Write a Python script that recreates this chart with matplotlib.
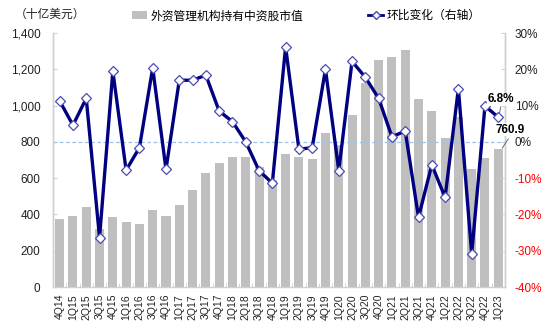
import matplotlib
matplotlib.use("Agg")
import matplotlib.pyplot as plt
from matplotlib.patches import Patch
from matplotlib.lines import Line2D
from matplotlib.ticker import FuncFormatter
import numpy as np

quarters = ["4Q14", "1Q15", "2Q15", "3Q15", "4Q15", "1Q16", "2Q16", "3Q16",
            "4Q16", "1Q17", "2Q17", "3Q17", "4Q17", "1Q18", "2Q18", "3Q18",
            "4Q18", "1Q19", "2Q19", "3Q19", "4Q19", "1Q20", "2Q20", "3Q20",
            "4Q20", "1Q21", "2Q21", "3Q21", "4Q21", "1Q22", "2Q22", "3Q22",
            "4Q22", "1Q23"]

# Market value of Chinese equities held by foreign managers (USD bn)
holdings = [375, 393, 441, 321, 386, 356, 349, 422, 389, 454, 533, 628,
            681, 718, 718, 659, 590, 736, 718, 705, 847, 782, 951, 1122,
            1254, 1269, 1304, 1034, 970, 821, 938, 648, 712, 760.9]

# Quarter-on-quarter change (%), right axis
qoq = [11.3, 4.6, 12.0, -26.4, 19.5, -7.8, -1.6, 20.4, -7.6, 17.0, 17.0,
       18.4, 8.5, 5.6, 0.0, -7.9, -11.4, 26.2, -2.0, -1.6, 20.0, -7.9,
       22.2, 17.8, 12.0, 1.4, 3.0, -20.8, -6.3, -15.3, 14.7, -30.9, 9.9, 6.8]

left_ticks = [0, 200, 400, 600, 800, 1000, 1200, 1400]
right_ticks = [-40, -30, -20, -10, 0, 10, 20, 30]

cjk = ["Noto Sans CJK SC", "DejaVu Sans"]
num_font = ["Liberation Sans", "Noto Sans CJK SC"]

fig = plt.figure(figsize=(5.5, 3.34), dpi=100)
ax = fig.add_axes([0.0964, 0.1407, 0.8216, 0.7603])
ax2 = ax.twinx()

x = np.arange(len(quarters))
bar_color = "#bfbfbf"
line_color = "#000080"
axis_gray = "#d0d0d0"

ax.bar(x, holdings, width=0.68, color=bar_color, zorder=2)
ax.set_xlim(-0.5, len(quarters) - 0.5)
ax.set_ylim(0, 1400)
ax.set_yticks(left_ticks)
ax.yaxis.set_major_formatter(FuncFormatter(lambda v, p: f"{int(v):,}"))
ax.set_xticks(x)
ax.set_xticklabels(quarters, rotation=90, fontsize=7.5, family=num_font,
                   color="#222222")
ax.set_xticks(np.arange(-0.5, len(quarters), 1), minor=True)
ax.tick_params(axis="x", which="major", length=0, pad=5)
ax.tick_params(axis="x", which="minor", direction="in", length=3,
               color=axis_gray)
ax.tick_params(axis="y", direction="in", length=3, color=axis_gray,
               labelsize=8.5, labelcolor="#222222", pad=9)
for lab in ax.get_yticklabels():
    lab.set_family(num_font)

ax2.set_ylim(-40, 30)
ax2.set_yticks(right_ticks)
ax2.yaxis.set_major_formatter(FuncFormatter(lambda v, p: f"{int(v)}%"))
ax2.tick_params(axis="y", direction="in", length=3, color=axis_gray,
                labelsize=8.5, pad=7)
for lab, val in zip(ax2.get_yticklabels(), right_ticks):
    lab.set_family(num_font)
    lab.set_color("#ff0000" if val < 0 else "#222222")

for a in (ax, ax2):
    a.spines["top"].set_visible(False)
    for s in ("left", "right", "bottom"):
        a.spines[s].set_color(axis_gray)
        a.spines[s].set_linewidth(1.0)
ax2.spines["bottom"].set_visible(False)

ax2.axhline(0, color="#9dc3e6", linestyle=(0, (3, 2)), linewidth=0.9,
            zorder=1)
ax2.plot(x, qoq, color=line_color, linewidth=2.4, marker="D", markersize=5,
         markerfacecolor="white", markeredgecolor="#4b4bb0",
         markeredgewidth=0.9, zorder=4)

# Value callouts for the latest quarter (drawn on top of the right spine)
last = len(quarters) - 1
label_box = dict(facecolor="white", edgecolor="none", pad=0.3)
ax2.annotate(f"{qoq[last]}%", xy=(x[last] + 0.1, qoq[last] + 1.2),
             xytext=(x[last] + 0.2, qoq[last] + 5.0), ha="center",
             va="center", fontsize=8.5, fontweight="bold", family=num_font,
             zorder=6, bbox=label_box, annotation_clip=False,
             arrowprops=dict(arrowstyle="-", color="#555555", lw=0.6,
                             relpos=(0.5, 0.0), shrinkA=1, shrinkB=0))
ax2.annotate(f"{holdings[last]}", xy=(x[last] + 0.3, holdings[last] + 5),
             xytext=(x[last] + 0.9, holdings[last] + 105),
             xycoords=ax.transData, textcoords=ax.transData,
             ha="center", va="center", fontsize=8.5, fontweight="bold",
             family=num_font, zorder=6, bbox=label_box,
             annotation_clip=False,
             arrowprops=dict(arrowstyle="-", color="#555555", lw=0.6,
                             relpos=(0.5, 0.0), shrinkA=2, shrinkB=0))

fig.text(0.091, 0.958, "（十亿美元）", fontsize=8.5, family=cjk,
         ha="center", va="center", color="#222222")

handles = [Patch(facecolor=bar_color, edgecolor="none"),
           Line2D([0], [0], color=line_color, linewidth=2.0, marker="D",
                  markersize=4.5, markerfacecolor="white",
                  markeredgecolor="#4b4bb0")]
labels = ["外资管理机构持有中资股市值", "环比变化（右轴）"]
fig.legend(handles, labels, loc="center left",
           bbox_to_anchor=(0.24, 0.953), ncol=2, frameon=False,
           prop={"family": cjk, "size": 8.5}, handlelength=1.3,
           handleheight=0.6, handletextpad=0.25, columnspacing=5.5,
           borderaxespad=0, borderpad=0)

fig.savefig("out.png", dpi=100)
